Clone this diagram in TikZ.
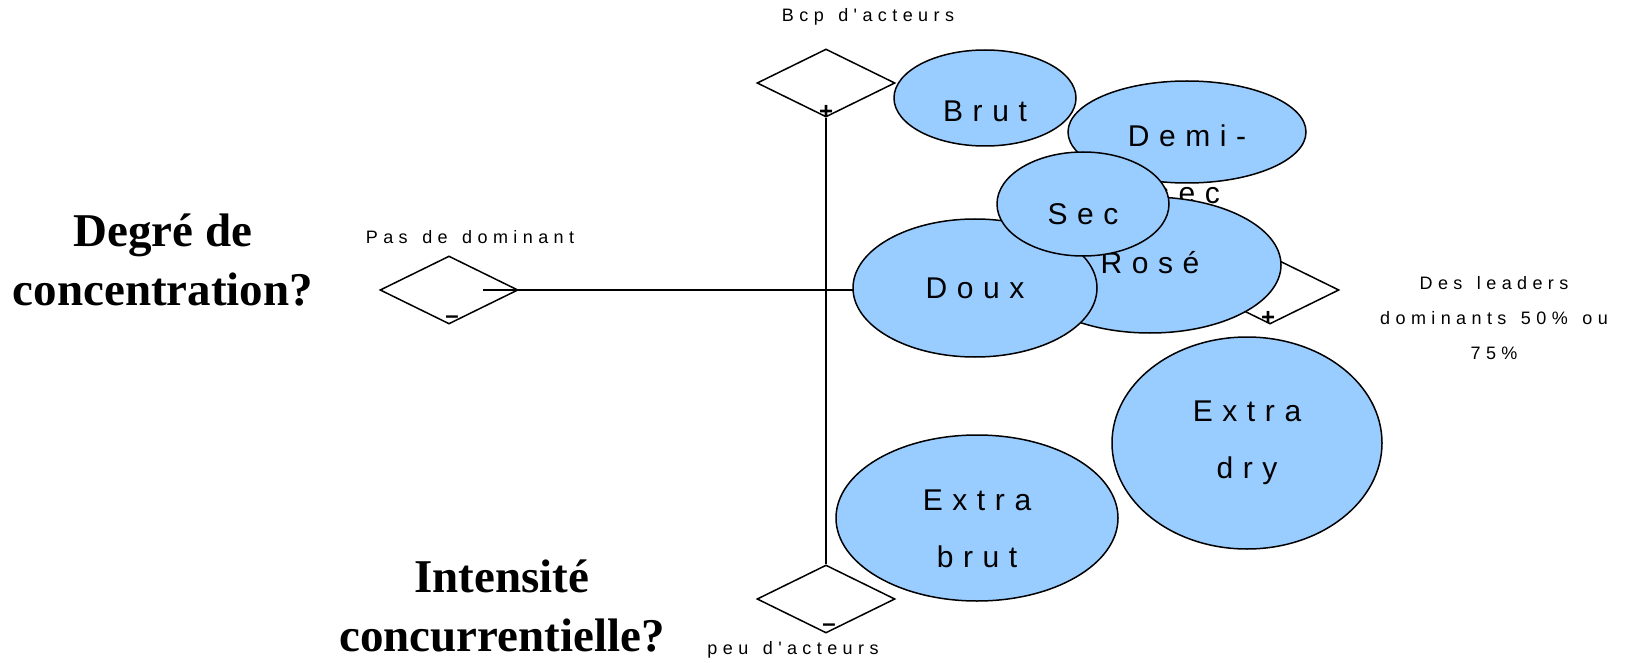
\documentclass[tikz,border=0pt]{standalone}
\usepackage{fontspec}
\setmainfont{Liberation Sans}
\newfontfamily\titrefont{Liberation Serif}
\newfontfamily\vinfont[LetterSpace=32]{Liberation Sans}
\newfontfamily\petitfont[LetterSpace=30,WordSpace=1.4]{Liberation Sans}
\usetikzlibrary{shapes.geometric}
\definecolor{bleuclair}{RGB}{153,204,255}
\tikzset{
  bulle/.style={ellipse,draw,fill=bleuclair,line width=1.5pt,inner sep=0pt},
  losange/.style={diamond,draw,fill=white,line width=1.5pt,inner sep=0pt,minimum width=138pt,minimum height=68pt},
  axe/.style={line width=1.5pt},
  titre/.style={font=\titrefont\bfseries\fontsize{47}{59}\selectfont,align=center},
  nomvin/.style={font=\vinfont\fontsize{30}{57}\selectfont,align=center},
  petit/.style={font=\petitfont\fontsize{18}{35}\selectfont,align=center},
  signe/.style={font=\bfseries\fontsize{24}{24}\selectfont,inner sep=0pt}
}
\begin{document}
\begin{tikzpicture}[x=1pt,y=-1pt]
	\useasboundingbox (0,0) rectangle (1633,663);
	\node[losange] (haut) at (826,83) {};
	\node[losange] (gauche) at (449,290) {};
	\node[losange] (droite) at (1270,290) {};
	\node[losange] (bas) at (826,599) {};
	\coordinate (depart) at (483,290);
	\draw[axe] (depart) -- (droite.west);
	\draw[axe] (haut.south) -- (bas.north);

	\foreach \nom/\cx/\cy/\w/\h/\ty/\texte in {brut/985/98/182/96/111/Brut,demisec/1187/132/238/102/164/{Demi-\\sec},rose/1150/265/262/136/263/Rosé,doux/975/288/244/138/288/Doux,sec/1083/204/172/104/214/Sec,extradry/1247/443/270/212/443/{Extra\\dry},extrabrut/977/518/282/166/529/{Extra\\brut}} {
		\node[bulle,minimum width=\w pt,minimum height=\h pt] (\nom) at (\cx,\cy) {};
		\node[nomvin] (t\nom) at (\cx,\ty) {\texte};
	}

	\node[signe] (plushaut) at (826,112) {+};
	\node[signe] (plusdroite) at (1268,318) {+};
	\node[signe] (moinsgauche) at (452,320) {--};
	\node[signe] (moinsbas) at (829,628) {--};

	\node[petit] (bcp) at (868,17) {Bcp d'acteurs};
	\node[petit] (pasdom) at (470,237) {Pas de dominant};
	\node[petit] (peu) at (793,650) {peu d'acteurs};
	\node[petit] (leaders) at (1494,318) {Des leaders\\dominants 50\% ou\\75\%};

	\node[titre] (degre) at (163,260) {Degré de\\concentration?};
	\node[titre] (intensite) at (502,606) {Intensité\\concurrentielle?};
\end{tikzpicture}
\end{document}
